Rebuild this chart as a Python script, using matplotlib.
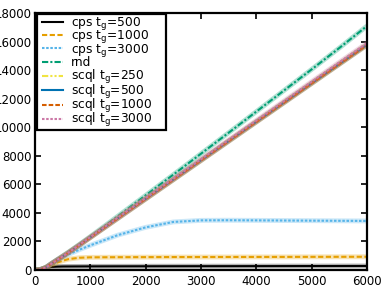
import numpy as np
import matplotlib
matplotlib.use('Agg')
import matplotlib.pyplot as plt
from matplotlib.lines import Line2D
from matplotlib.legend_handler import HandlerLine2D
from matplotlib.transforms import Bbox

# time steps
x = [0, 100, 200, 300, 400, 500, 600, 800, 1000, 1500, 2000, 2500, 3000,
     3500, 4000, 4500, 5000, 5500, 6000]

cps_500 = [0, 30, 150, 220, 240, 250, 252, 255, 258, 262, 265, 268, 270,
           272, 275, 278, 280, 283, 285]
cps_1000 = [0, 40, 180, 350, 520, 650, 760, 860, 890, 900, 905, 910, 912,
            915, 918, 920, 924, 927, 930]
cps_3000 = [0, 40, 180, 450, 700, 900, 1080, 1420, 1730, 2450, 2990, 3370,
            3480, 3490, 3480, 3470, 3460, 3450, 3440]
rnd = [0, 40, 190, 460, 720, 980, 1240, 1780, 2340, 3780, 5230, 6680, 8150,
       9620, 11100, 12580, 14060, 15560, 17100]
scql_250 = [0, 40, 180, 450, 700, 950, 1200, 1740, 2290, 3650, 5000, 6350,
            7700, 9060, 10410, 11760, 13110, 14460, 15820]
scql_500 = [0, 40, 180, 450, 700, 950, 1200, 1740, 2280, 3630, 4980, 6330,
            7680, 9030, 10380, 11730, 13080, 14430, 15780]
scql_1000 = [0, 40, 180, 450, 700, 950, 1200, 1730, 2270, 3620, 4970, 6320,
             7670, 9020, 10370, 11720, 13070, 14420, 15760]
scql_3000 = [0, 40, 180, 450, 710, 960, 1210, 1760, 2310, 3680, 5040, 6400,
             7760, 9120, 10480, 11840, 13200, 14560, 15900]

series = [
    (cps_500, 'cps t$_\\mathrm{g}$=500', '#000000', '-'),
    (cps_1000, 'cps t$_\\mathrm{g}$=1000', '#E69F00', (0, (2.5, 1.2))),
    (cps_3000, 'cps t$_\\mathrm{g}$=3000', '#56B4E9', (0, (1.2, 0.8))),
    (rnd, 'rnd', '#009E73', (0, (3, 1, 1, 1))),
    (scql_250, 'scql t$_\\mathrm{g}$=250', '#F0E442', (0, (3, 1, 1, 1, 1, 1))),
    (scql_500, 'scql t$_\\mathrm{g}$=500', '#0072B2', '-'),
    (scql_1000, 'scql t$_\\mathrm{g}$=1000', '#D55E00', (0, (2.2, 1))),
    (scql_3000, 'scql t$_\\mathrm{g}$=3000', '#CC79A7', (0, (1.2, 0.8))),
]

plt.rcParams['font.size'] = 8.5
fig = plt.figure(figsize=(3.88, 2.91), dpi=100)
ax = fig.add_axes([0.090, 0.072, 0.856, 0.883])

for ys, lab, col, ls in series:
    ax.plot(x, ys, color=col, lw=3.5, alpha=0.3, solid_capstyle='butt')
    ax.plot(x, ys, color=col, lw=1.5, ls=ls, label=lab)

ax.set_xlim(0, 6000)
ax.set_ylim(0, 18000)
ax.set_xticks(range(0, 6001, 1000))
ax.set_yticks(range(0, 18001, 2000))
ax.tick_params(direction='in', top=True, right=True, length=4, width=1.2)
ax.tick_params(axis='y', pad=2.5)
for s in ax.spines.values():
    s.set_linewidth(1.6)

leg = ax.legend(loc='upper left', bbox_to_anchor=(0.006, 0.0, 0.39, 0.995),
                mode='expand', fancybox=False, framealpha=1,
                edgecolor='black', labelspacing=-0.3, borderpad=0.05,
                handlelength=2.05, handletextpad=0.65, borderaxespad=0.0,
                fontsize=8.8, handler_map={Line2D: HandlerLine2D(xpad=0.4)})
leg.get_frame().set_linewidth(1.6)

# give the 'rnd' row the same height as the subscripted rows
rows = leg._legend_handle_box.get_children()[0].get_children()
ref_ta = rows[0].get_children()[1]
rnd_ta = rows[3].get_children()[1]
_orig_bbox = rnd_ta.get_bbox


def _even_bbox(renderer):
    b = _orig_bbox(renderer)
    r = ref_ta.get_bbox(renderer)
    return Bbox.from_extents(b.x0, r.y0, b.x1, r.y1)


rnd_ta.get_bbox = _even_bbox

fig.savefig('out.png', dpi=100)
